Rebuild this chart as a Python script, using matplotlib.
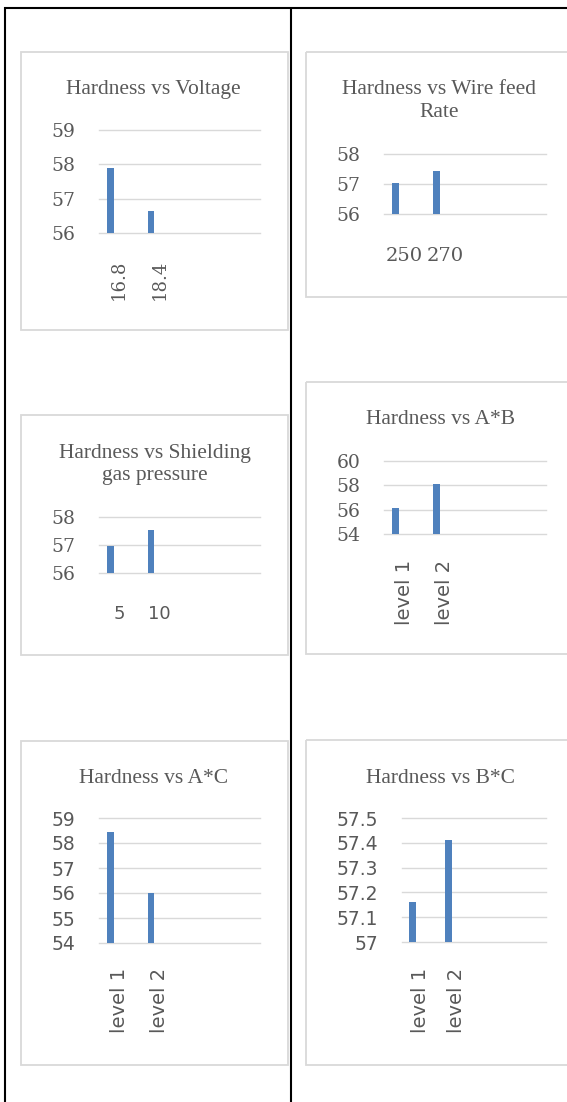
import matplotlib
matplotlib.use("Agg")
import matplotlib.pyplot as plt
from matplotlib.patches import Rectangle
import numpy as np

# Figure size in pixels
W, H = 567, 1102
DPI = 100

# ---- data -------------------------------------------------------------
voltage_levels = ["16.8", "18.4"]
hardness_voltage = [57.89, 56.64]
yticks_voltage = [56, 57, 58, 59]

wire_feed_levels = ["250", "270"]
hardness_wire_feed = [57.02, 57.44]
yticks_wire_feed = [56, 57, 58]

gas_pressure_levels = ["5", "10"]
hardness_gas_pressure = [56.97, 57.52]
yticks_gas_pressure = [56, 57, 58]

interaction_levels = ["level 1", "level 2"]
hardness_ab = [56.15, 58.15]
yticks_ab = [54, 56, 58, 60]
hardness_ac = [58.43, 56.01]
yticks_ac = [54, 55, 56, 57, 58, 59]
hardness_bc = [57.16, 57.41]
yticks_bc = [57.0, 57.1, 57.2, 57.3, 57.4, 57.5]

# ---- styling ----------------------------------------------------------
BAR_COLOR = "#4f81bd"
GRID_COLOR = "#d9d9d9"
TEXT_COLOR = "#595959"
SERIF = "DejaVu Serif"
SANS = "DejaVu Sans"
TITLE_FONT = "Liberation Serif"

fig = plt.figure(figsize=(W / DPI, H / DPI), dpi=DPI)
fig.patch.set_facecolor("white")

# background layer in pixel coordinates (table rules, chart frames, titles)
bg = fig.add_axes([0, 0, 1, 1], zorder=0)
bg.set_xlim(0, W)
bg.set_ylim(H, 0)
bg.axis("off")

# table rules
rule = dict(color="black", lw=1.5, solid_capstyle="butt")
bg.plot([4, W], [7.5, 7.5], **rule)
bg.plot([5, 5], [7, H], **rule)
bg.plot([291, 291], [7, H], **rule)

panels = [
    dict(title=["Hardness vs Voltage"], title_x=153, title_base=[94],
         frame=(21, 52, 288, 330), plot=(99, 260, 130, 233),
         cats=voltage_levels, vals=hardness_voltage, yticks=yticks_voltage,
         yfont=SERIF, xfont=SERIF, xsize=13, rot=90, xpad=19),
    dict(title=["Hardness vs Wire feed", "Rate"], title_x=439, title_base=[94, 117],
         frame=(306, 52, 575, 297), plot=(384, 546, 154, 214),
         cats=wire_feed_levels, vals=hardness_wire_feed, yticks=yticks_wire_feed,
         yfont=SERIF, xfont=SERIF, xsize=14, rot=0, xpad=24),
    dict(title=["Hardness vs Shielding", "gas pressure"], title_x=155, title_base=[458, 480],
         frame=(21, 415, 288, 655), plot=(99, 260, 517, 573),
         cats=gas_pressure_levels, vals=hardness_gas_pressure, yticks=yticks_gas_pressure,
         yfont=SERIF, xfont=SANS, xsize=13, rot=0, xpad=23),
    dict(title=["Hardness vs A*B"], title_x=440, title_base=[424],
         frame=(306, 382, 575, 654), plot=(384, 546, 461, 534),
         cats=interaction_levels, vals=hardness_ab, yticks=yticks_ab,
         yfont=SERIF, xfont=SANS, xsize=14, rot=90, xpad=18.5),
    dict(title=["Hardness vs A*C"], title_x=154, title_base=[783],
         frame=(21, 741, 288, 1065), plot=(99, 260, 818, 943),
         cats=interaction_levels, vals=hardness_ac, yticks=yticks_ac,
         yfont=SANS, xfont=SANS, xsize=14, rot=90, xpad=18),
    dict(title=["Hardness vs B*C"], title_x=440, title_base=[783],
         frame=(306, 740, 575, 1065), plot=(402, 546, 818, 942),
         cats=interaction_levels, vals=hardness_bc, yticks=yticks_bc,
         yfont=SANS, xfont=SANS, xsize=14, rot=90, xpad=18.5),
]

for p in panels:
    fx0, fy0, fx1, fy1 = p["frame"]
    bg.add_patch(Rectangle((fx0, fy0), fx1 - fx0, fy1 - fy0, fill=False,
                           ec=GRID_COLOR, lw=1.3))
    for line, base in zip(p["title"], p["title_base"]):
        bg.text(p["title_x"], base, line, ha="center", va="baseline",
                family=TITLE_FONT, fontsize=15.5, color=TEXT_COLOR)

    px0, px1, py_top, py_bot = p["plot"]
    ax = fig.add_axes([px0 / W, 1 - py_bot / H, (px1 - px0) / W, (py_bot - py_top) / H],
                      zorder=2)
    ax.patch.set_alpha(0)
    yt = p["yticks"]
    base = min(yt)
    x = np.arange(len(p["cats"]))
    vals = np.asarray(p["vals"])
    ax.bar(x - 0.21, vals - base, bottom=base, width=0.17, color=BAR_COLOR, zorder=3)
    ax.set_xlim(-0.5, 3.5)
    ax.set_ylim(base, max(yt))
    ax.set_yticks(yt)
    ax.set_yticklabels([f"{v:g}" for v in yt], family=p["yfont"], fontsize=13.5,
                       color=TEXT_COLOR)
    ax.set_xticks(x)
    ax.set_xticklabels(p["cats"], family=p["xfont"], fontsize=p["xsize"],
                       color=TEXT_COLOR, rotation=p["rot"])
    ax.tick_params(axis="y", length=0, pad=17)
    ax.tick_params(axis="x", length=0, pad=p["xpad"])
    for s in ax.spines.values():
        s.set_visible(False)
    ax.yaxis.grid(True, color=GRID_COLOR, lw=1.0)
    ax.set_axisbelow(True)
    for gl in ax.get_ygridlines():
        gl.set_clip_on(False)

fig.savefig("out.png", dpi=DPI)
